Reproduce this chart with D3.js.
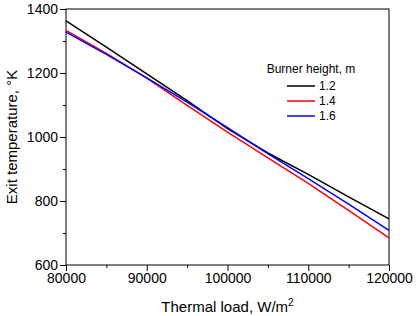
<!DOCTYPE html>
<html>
<head>
<meta charset="utf-8">
<script src="https://cdn.jsdelivr.net/npm/d3@7"></script>
<style>
  body { margin: 0; background: #fff; }
  text { font-family: "Liberation Sans", Arial, sans-serif; fill: #000; }
</style>
</head>
<body>
<div id="chart"></div>
<script>
// Data
const loads = [80000, 85000, 90000, 95000, 100000, 105000, 110000, 115000, 120000]
const temp_12 = [1363, 1281, 1197, 1114, 1026, 950, 883, 813, 744]
const temp_14 = [1333, 1261, 1184, 1099, 1015, 935, 855, 771, 685]
const temp_16 = [1328, 1258, 1185, 1109, 1029, 948, 870, 790, 708]
const heights = ["1.2", "1.4", "1.6"]
const colors = ["#000000", "#ff0000", "#0000ff"]
const xTicks = [80000, 90000, 100000, 110000, 120000]
const yTicks = [600, 800, 1000, 1200, 1400]

const series = [temp_12, temp_14, temp_16]

// Set up svg
const w = 417, h = 316
const margin = {left: 66, top: 9, right: 28, bottom: 51}

const svg = d3.select("#chart").append("svg")
    .attr("width", w)
    .attr("height", h)

const x = d3.scaleLinear().domain([80000, 120000]).range([margin.left, w - margin.right])
const y = d3.scaleLinear().domain([600, 1400]).range([h - margin.bottom, margin.top])

// Frame
svg.append("rect")
    .attr("x", x(80000)).attr("y", y(1400))
    .attr("width", x(120000) - x(80000))
    .attr("height", y(600) - y(1400))
    .attr("fill", "none").attr("stroke", "#000").attr("stroke-width", 1)

// Axes: major ticks with labels, minor ticks without
const xAxis = svg.append("g")
    .attr("transform", "translate(0," + y(600) + ")")
    .call(d3.axisBottom(x).tickValues(xTicks).tickSize(6).tickPadding(2).tickFormat(d3.format("d")))
xAxis.append("g").call(d3.axisBottom(x).tickValues([85000, 95000, 105000, 115000]).tickSize(3).tickFormat(""))

const yAxis = svg.append("g")
    .attr("transform", "translate(" + x(80000) + ",0)")
    .call(d3.axisLeft(y).tickValues(yTicks).tickSize(6).tickPadding(2).tickFormat(d3.format("d")))
yAxis.append("g").call(d3.axisLeft(y).tickValues([700, 900, 1100, 1300]).tickSize(3).tickFormat(""))

svg.selectAll(".domain").remove()
svg.selectAll(".tick line").attr("stroke", "#000")
svg.selectAll(".tick text")
    .style("font-family", "'Liberation Sans', Arial, sans-serif")
    .style("font-size", "14px")
    .attr("fill", "#000")

// Lines
const line = d3.line()
    .x((d, i) => x(loads[i]))
    .y(d => y(d))

svg.selectAll(".series")
    .data(series)
    .enter()
    .append("path")
    .attr("class", "series")
    .attr("d", line)
    .attr("fill", "none")
    .attr("stroke", (d, i) => colors[i])
    .attr("stroke-width", 1.5)

// Axis titles
const xt = svg.append("text")
    .attr("x", (x(80000) + x(120000)) / 2)
    .attr("y", 312)
    .attr("text-anchor", "middle")
    .style("font-size", "15px")
xt.append("tspan").text("Thermal load, W/m")
xt.append("tspan").text("2").attr("dy", -6).style("font-size", "10px")

svg.append("text")
    .attr("transform", "translate(16.5," + (y(600) + y(1400)) / 2 + ") rotate(-90)")
    .attr("text-anchor", "middle")
    .style("font-size", "15px")
    .text("Exit temperature, °K")

// Legend
const legend = svg.append("g").attr("transform", "translate(311,73)")
legend.append("text")
    .attr("text-anchor", "middle")
    .style("font-size", "12px")
    .text("Burner height, m")

const entry = legend.selectAll(".entry")
    .data(heights)
    .enter()
    .append("g")
    .attr("transform", (d, i) => "translate(0," + (13 + i * 15) + ")")
entry.append("line")
    .attr("x1", -24).attr("x2", 4)
    .attr("stroke", (d, i) => colors[i])
    .attr("stroke-width", 1.5)
entry.append("text")
    .attr("x", 8).attr("y", 4)
    .style("font-size", "12px")
    .text(d => d)
</script>
</body>
</html>
